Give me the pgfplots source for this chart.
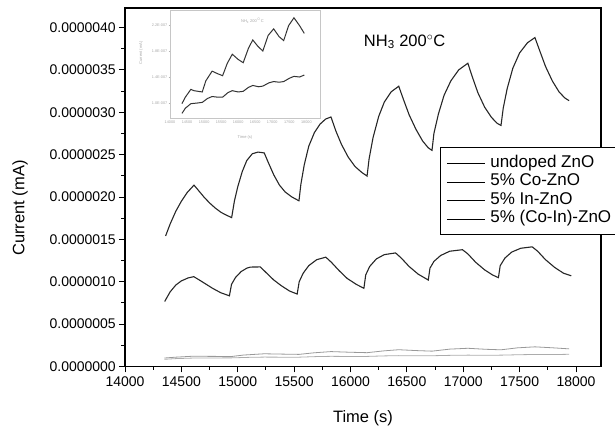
\documentclass[border=0pt]{standalone}
\usepackage{fontspec}
\setmainfont{Liberation Sans}
\usepackage{pgfplots}
\usepackage{pgfplotstable}
\pgfplotsset{compat=1.18}

% time (s), current (mA)
\pgfplotstableread{
t I
14360 1.54e-6
14400 1.68e-6
14450 1.83e-6
14500 1.95e-6
14550 2.05e-6
14612 2.14e-6
14650 2.08e-6
14700 2.00e-6
14750 1.93e-6
14800 1.87e-6
14850 1.82e-6
14900 1.785e-6
14946 1.757e-6
14970 1.95e-6
15000 2.12e-6
15040 2.30e-6
15080 2.43e-6
15129 2.51e-6
15180 2.53e-6
15235 2.52e-6
15270 2.41e-6
15320 2.26e-6
15370 2.14e-6
15420 2.06e-6
15480 2.00e-6
15543 1.955e-6
15560 2.15e-6
15590 2.38e-6
15630 2.60e-6
15680 2.76e-6
15730 2.86e-6
15780 2.92e-6
15827 2.944e-6
15870 2.78e-6
15920 2.62e-6
15980 2.47e-6
16040 2.36e-6
16100 2.29e-6
16147 2.247e-6
16165 2.45e-6
16200 2.70e-6
16250 2.95e-6
16300 3.12e-6
16360 3.24e-6
16428 3.307e-6
16470 3.15e-6
16520 2.97e-6
16580 2.80e-6
16640 2.66e-6
16690 2.58e-6
16723 2.55e-6
16740 2.75e-6
16780 2.98e-6
16830 3.20e-6
16890 3.37e-6
16960 3.50e-6
17041 3.578e-6
17080 3.42e-6
17130 3.23e-6
17190 3.06e-6
17250 2.94e-6
17300 2.87e-6
17335 2.844e-6
17355 3.05e-6
17390 3.28e-6
17440 3.52e-6
17500 3.70e-6
17570 3.82e-6
17636 3.881e-6
17680 3.72e-6
17730 3.54e-6
17790 3.37e-6
17850 3.24e-6
17900 3.17e-6
17939 3.136e-6
}\tabCoIn

\pgfplotstableread{
t I
14352 0.767e-6
14400 0.88e-6
14450 0.96e-6
14500 1.01e-6
14560 1.045e-6
14610 1.06e-6
14660 1.02e-6
14720 0.97e-6
14780 0.92e-6
14850 0.87e-6
14926 0.834e-6
14945 0.97e-6
14980 1.05e-6
15030 1.12e-6
15080 1.16e-6
15112 1.173e-6
15200 1.175e-6
15250 1.11e-6
15320 1.02e-6
15390 0.95e-6
15460 0.89e-6
15527 0.855e-6
15545 1.00e-6
15580 1.10e-6
15630 1.19e-6
15700 1.26e-6
15781 1.29e-6
15830 1.23e-6
15900 1.13e-6
15970 1.04e-6
16050 0.97e-6
16119 0.923e-6
16135 1.08e-6
16170 1.18e-6
16230 1.27e-6
16300 1.32e-6
16400 1.34e-6
16450 1.28e-6
16520 1.18e-6
16600 1.09e-6
16690 1.02e-6
16705 1.16e-6
16740 1.24e-6
16800 1.31e-6
16880 1.36e-6
16993 1.378e-6
17040 1.33e-6
17110 1.23e-6
17190 1.14e-6
17260 1.08e-6
17312 1.048e-6
17328 1.19e-6
17370 1.28e-6
17430 1.35e-6
17510 1.395e-6
17612 1.412e-6
17660 1.36e-6
17730 1.26e-6
17810 1.17e-6
17890 1.10e-6
17958 1.07e-6
}\tabIn

\pgfplotstableread{
t I
14350 0.100e-6
14450 0.110e-6
14612 0.122e-6
14700 0.120e-6
14946 0.118e-6
15050 0.135e-6
15235 0.150e-6
15400 0.146e-6
15543 0.143e-6
15680 0.162e-6
15827 0.176e-6
16000 0.168e-6
16147 0.163e-6
16300 0.185e-6
16428 0.198e-6
16580 0.188e-6
16723 0.181e-6
16880 0.205e-6
17041 0.215e-6
17200 0.203e-6
17335 0.197e-6
17480 0.220e-6
17636 0.232e-6
17800 0.220e-6
17940 0.208e-6
}\tabUndoped

\pgfplotstableread{
t I
14350 0.085e-6
14450 0.093e-6
14612 0.100e-6
14800 0.101e-6
14946 0.102e-6
15100 0.108e-6
15235 0.111e-6
15400 0.110e-6
15543 0.110e-6
15700 0.117e-6
15827 0.120e-6
16000 0.118e-6
16147 0.119e-6
16300 0.125e-6
16428 0.128e-6
16600 0.126e-6
16723 0.127e-6
16900 0.132e-6
17041 0.134e-6
17200 0.133e-6
17335 0.134e-6
17500 0.139e-6
17636 0.142e-6
17800 0.141e-6
17940 0.144e-6
}\tabCo

\begin{document}
\begin{tikzpicture}[x=1pt,y=1pt]
\useasboundingbox (0,0) rectangle (615,430);

\begin{axis}[
  at={(125pt,63.5pt)}, anchor=south west,
  width=476pt, height=358.5pt, scale only axis,
  xmin=14000, xmax=18222, ymin=0, ymax=4.23e-6,
  xtick={14000,14500,...,18000},
  xticklabels={14000,14500,15000,15500,16000,16500,17000,17500,18000},
  ytick={0,5e-7,1e-6,1.5e-6,2e-6,2.5e-6,3e-6,3.5e-6,4e-6},
  yticklabels={0.0000000,0.0000005,0.0000010,0.0000015,0.0000020,0.0000025,0.0000030,0.0000035,0.0000040},
  scaled y ticks=false, scaled x ticks=false,
  minor x tick num=1, minor y tick num=1,
  tick align=outside, xtick pos=left, ytick pos=left,
  major tick length=6pt, minor tick length=3.5pt,
  tick style={black, line width=0.9pt},
  axis line style={black, line width=1.2pt},
  /pgf/number format/assume math mode=true,
  tick label style={font=\fontsize{14}{14}\selectfont},
  yticklabel style={inner xsep=3pt},
  xticklabel style={yshift=-1pt},
  xlabel={Time (s)}, ylabel={Current (mA)},
  label style={font=\fontsize{16.5}{16.5}\selectfont},
  xlabel style={at={(axis description cs:0.5,-0.1437)}, anchor=center},
  ylabel style={at={(axis description cs:-0.2206,0.4421)}, anchor=center},
  legend cell align=left,
  legend style={at={(rel axis cs:0.6618,0.6123)}, anchor=north west,
    draw=black, line width=0.8pt, fill=white,
    font=\fontsize{17}{17}\selectfont,
    inner xsep=6pt, inner ysep=7pt, row sep=0.5pt,
    nodes={inner sep=1pt, text height=12pt, text depth=4pt}},
  legend image code/.code={\draw[black, line width=0.7pt] (0pt,0pt) -- (38pt,0pt); \path (42pt,0pt);},
]
\addplot[gray!80, line width=0.8pt] table[x=t,y=I] {\tabUndoped};
\addlegendentry{undoped ZnO}
\addplot[gray!65, line width=0.8pt] table[x=t,y=I] {\tabCo};
\addlegendentry{5\% Co-ZnO}
\addplot[black!85, line width=1.1pt] table[x=t,y=I] {\tabIn};
\addlegendentry{5\% In-ZnO}
\addplot[black!85, line width=1.1pt] table[x=t,y=I] {\tabCoIn};
\addlegendentry{5\% (Co-In)-ZnO}
\node[font=\fontsize{16.5}{16.5}\selectfont] at (axis cs:16480,3.83e-6)
  {NH\textsubscript{3} 200\textsuperscript{$\circ$}C};
\end{axis}

% inset
\begin{axis}[
  at={(170pt,312pt)}, anchor=south west,
  width=150pt, height=108pt, scale only axis,
  xmin=14000, xmax=18400, ymin=0.078e-6, ymax=0.244e-6,
  axis background/.style={fill=white},
  axis line style={gray!45, line width=0.6pt},
  tick style={gray!60, line width=0.4pt},
  major tick length=1.5pt,
  tick align=outside, xtick pos=left, ytick pos=left,
  xtick={14000,14500,...,18000},
  xticklabels={14000,14500,15000,15500,16000,16500,17000,17500,18000},
  ytick={0.1e-6,0.14e-6,0.18e-6,0.22e-6},
  yticklabels={1.0E-007,1.4E-007,1.8E-007,2.2E-007},
  scaled y ticks=false, scaled x ticks=false,
  tick label style={font=\fontsize{3.8}{3.8}\selectfont, text=gray!70, inner sep=1pt},
  xlabel={Time (s)}, ylabel={Current (mA)},
  label style={font=\fontsize{4}{4}\selectfont, text=gray!70},
  xlabel style={at={(axis description cs:0.5,-0.176)}, anchor=center},
  ylabel style={at={(axis description cs:-0.193,0.6)}, anchor=center},
]
\addplot[black!80, line width=1pt] table[x=t,y=I] {\tabUndoped};
\addplot[black!80, line width=1pt] table[x=t,y=I] {\tabCo};
\node[font=\fontsize{4}{4}\selectfont, text=gray!70] at (rel axis cs:0.55,0.9)
  {NH\textsubscript{3} 200\textsuperscript{$\circ$}C};
\end{axis}
\end{tikzpicture}
\end{document}
